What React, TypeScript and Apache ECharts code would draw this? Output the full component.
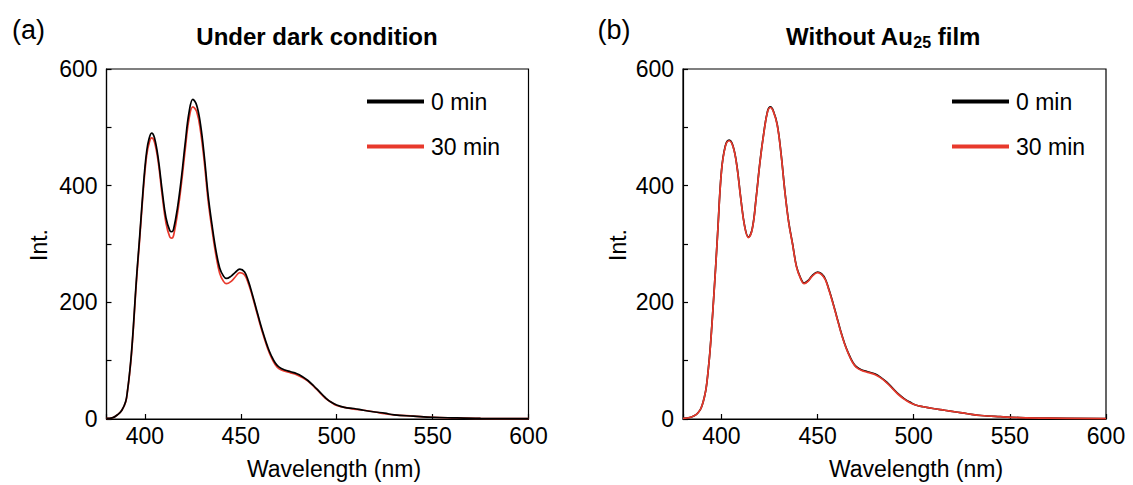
import React, { useEffect, useRef } from "react";
import * as echarts from "echarts";

// ---- Data ----
const WL_A = [380,383,386,388,390,391,392,393,394,395,396,397,398,399,400,401,402,403.5,405,407,409,411,413,414,415,417,419,421,423,425,427,429,431,433,435,437,439,441,442.5,445,447,449.5,452,454,456,458,460,462,464,466,468,470,473,476,479,482,485,488,491,494,497,500,504,509,514,520,525,530,540,550,560,575,600];
const A_0MIN = [1,2,8,15,30,50,78,113,158,210,258,300,345,390,430,460,478,490,482,446,392,345,323,321,326,362,412,472,525,548,538,505,450,383,333,290,259,245,241,245,251,257,252,236,214,190,166,144,124,108,96,89,84,81,78,73,66,57,47,37,29,24,20,18,15,12,10,7,5,3,2,1,0.5];
const A_30MIN = [1,2,8,15,29,49,76,110,155,206,253,295,340,384,423,453,470,482,475,440,384,336,312,310,315,352,402,461,514,535,527,494,440,374,325,282,250,236,232,236,243,251,247,232,211,187,163,141,121,105,93,86,82,79,76,71,65,56,46,36,29,23,20,17,15,12,9,7,5,3,2,1,0.5];

const WL_B = [380,384,387,389,390,391,392,393,394,395,396,397,398,400,402,404,406,408,410,412,414,416,418,420,422,424,425.5,427,429,431,433,435,437,439,441,443,445,447,450,452,454,456,458,460,462,464,466,468,470,473,476,480,483,486,489,492,495,498,501,505,510,516,522,528,535,545,555,570,600];
const B_0MIN = [1,3,8,16,24,36,52,80,115,160,210,262,318,425,468,478,468,435,380,332,312,326,378,440,490,528,535,528,505,455,390,337,300,262,243,233,237,245,252,249,240,221,199,175,151,130,113,99,90,84,81,77,71,63,53,43,35,29,24,21,18,15,12,9,6,4,2.5,1.5,0.5];
const B_30MIN = [1,3,8,16,24,36,52,80,114,159,209,261,317,424,467,477,467,434,379,331,311,325,377,439,489,527,534,527,504,454,389,336,299,261,242,232,236,244,251,248,239,220,198,174,150,129,112,98,89,83,80,76,70,62,52,42,34,28,24,21,18,15,12,9,6,4,2.5,1.5,0.5];

const SERIES_NAMES = ["0 min", "30 min"];
const Y_LABELS = [0, 200, 400, 600];
const X_LABELS = [400, 450, 500, 550, 600];

const BLACK = "#000000";
const RED = "#e8392c";
const FONT = "Liberation Sans, Arial, Helvetica, sans-serif";

function pairs(xs: number[], ys: number[]) {
  return xs.map((x, i) => [x, ys[i]]);
}

function makeX(gridIndex: number) {
  return {
    type: "value",
    gridIndex,
    min: 380,
    max: 600,
    axisLine: { show: true, lineStyle: { color: BLACK, width: 1.2 } },
    axisTick: { show: true, inside: true, length: 5, lineStyle: { color: BLACK, width: 1.2 } },
    axisLabel: {
      color: BLACK,
      fontSize: 23,
      fontFamily: FONT,
      margin: 5,
      formatter: (v: number) => (X_LABELS.includes(v) ? String(v) : ""),
    },
    splitLine: { show: false },
  };
}

function makeY(gridIndex: number) {
  return {
    type: "value",
    gridIndex,
    min: 0,
    max: 600,
    interval: 100,
    axisLine: { show: true, lineStyle: { color: BLACK, width: 1.2 } },
    axisTick: { show: true, inside: true, length: 5, lineStyle: { color: BLACK, width: 1.2 } },
    axisLabel: {
      color: BLACK,
      fontSize: 23,
      fontFamily: FONT,
      margin: 9,
      formatter: (v: number) => (Y_LABELS.includes(v) ? String(v) : ""),
    },
    splitLine: { show: false },
  };
}

function line(name: string, data: number[][], idx: number, color: string, z: number) {
  return {
    name,
    type: "line",
    xAxisIndex: idx,
    yAxisIndex: idx,
    data,
    showSymbol: false,
    symbol: "none",
    smooth: 0.4,
    color,
    z,
    lineStyle: { color, width: 1.7 },
  };
}

function txt(x: number, y: number, text: string, fontSize: number, bold = false, rotation = 0) {
  return {
    type: "text",
    x,
    y,
    rotation,
    style: {
      text,
      fill: BLACK,
      fontSize,
      fontFamily: FONT,
      fontWeight: bold ? "bold" : "normal",
      align: "center",
      verticalAlign: "middle",
      textAlign: "center",
      textVerticalAlign: "middle",
    },
  };
}

function legend(left: number) {
  return {
    show: true,
    orient: "vertical",
    left,
    top: 85,
    itemWidth: 57,
    itemHeight: 4,
    itemGap: 22,
    icon: "rect",
    selectedMode: false,
    data: SERIES_NAMES,
    textStyle: { color: BLACK, fontSize: 23, fontFamily: FONT, padding: [0, 0, 0, 2] },
  };
}

export default function App() {
  const ref = useRef<HTMLDivElement>(null);
  useEffect(() => {
    if (!ref.current) return;
    const chart = echarts.init(ref.current, null, { renderer: "svg" });
    chart.setOption({
      animation: false,
      backgroundColor: "#ffffff",
      grid: [
        { left: 106.5, top: 69, width: 422, height: 350, show: true, borderColor: BLACK, borderWidth: 1.2, backgroundColor: "transparent" },
        { left: 683, top: 69, width: 423, height: 350, show: true, borderColor: BLACK, borderWidth: 1.2, backgroundColor: "transparent" },
      ],
      xAxis: [makeX(0), makeX(1)],
      yAxis: [makeY(0), makeY(1)],
      legend: [legend(362), legend(947)],
      series: [
        line(SERIES_NAMES[1], pairs(WL_A, A_30MIN), 0, RED, 2),
        line(SERIES_NAMES[0], pairs(WL_A, A_0MIN), 0, BLACK, 3),
        line(SERIES_NAMES[0], pairs(WL_B, B_0MIN), 1, BLACK, 2),
        line(SERIES_NAMES[1], pairs(WL_B, B_30MIN), 1, RED, 3),
      ],
      graphic: [
        txt(28.5, 30, "(a)", 27),
        txt(317, 36, "Under dark condition", 24, true),
        txt(39, 245, "Int.", 23, false, Math.PI / 2),
        txt(334, 469, "Wavelength (nm)", 23),
        txt(614, 30, "(b)", 27),
        {
          type: "text",
          x: 883,
          y: 36,
          style: {
            text: "{t|Without Au}{s|25}{t| film}",
            align: "center",
            verticalAlign: "middle",
            textAlign: "center",
            textVerticalAlign: "middle",
            fill: BLACK,
            fontFamily: FONT,
            fontWeight: "bold",
            fontSize: 24,
            rich: {
              t: { fontSize: 24, fontWeight: "bold", fontFamily: FONT, fill: BLACK, color: BLACK, lineHeight: 28 },
              s: { fontSize: 16, fontWeight: "bold", fontFamily: FONT, fill: BLACK, color: BLACK, lineHeight: 16, verticalAlign: "bottom" },
            },
          },
        },
        txt(618, 245, "Int.", 23, false, Math.PI / 2),
        txt(916, 469, "Wavelength (nm)", 23),
      ],
    });
    return () => chart.dispose();
  }, []);
  return (
    <div
      ref={ref}
      style={{ position: "fixed", left: 0, top: 0, width: 1133, height: 485, background: "#fff" }}
    />
  );
}
